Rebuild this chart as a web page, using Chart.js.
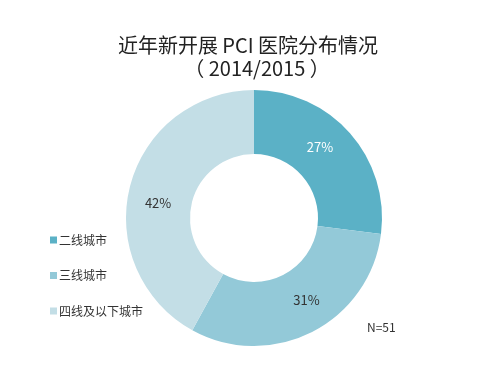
<!DOCTYPE html>
<html>
<head>
<meta charset="utf-8">
<script src="https://cdn.jsdelivr.net/npm/chart.js@4/dist/chart.umd.min.js"></script>
<style>
  html, body { margin: 0; padding: 0; background: #fff; }
  #wrap { width: 485px; height: 392px; position: relative; }
</style>
</head>
<body>
<div id="wrap"><canvas id="myChart" width="485" height="392"></canvas></div>
<script>
// data
var categories = ['二线城市', '三线城市', '四线及以下城市'];
var values = [27, 31, 42];
var sliceColors = ['#5BB1C6', '#93C9D8', '#C3DEE6'];
var labelColors = ['#ffffff', '#333333', '#333333'];
var titleLines = ['近年新开展 PCI 医院分布情况', '（ 2014/2015 ）'];
var noteText = 'N=51';

var FONT = '"Noto Sans CJK SC", "Noto Sans", sans-serif';

// draws title, slice labels, legend and note
var decorations = {
    id: 'decorations',
    afterDraw: function(chart) {
        var ctx = chart.ctx;
        ctx.save();
        ctx.textBaseline = 'middle';

        // title
        ctx.fillStyle = '#222';
        ctx.textAlign = 'center';
        ctx.font = '20px ' + FONT;
        ctx.fillText(titleLines[0], 248, 45);
        ctx.fillText(titleLines[1], 257, 68);

        // percentage labels, mid-ring, nudged a little counter-clockwise
        var meta = chart.getDatasetMeta(0);
        ctx.font = '13px ' + FONT;
        meta.data.forEach(function(arc, i) {
            var p = arc.getProps(['x', 'y', 'startAngle', 'endAngle', 'innerRadius', 'outerRadius']);
            var a = (p.startAngle + p.endAngle) / 2 - 0.1;
            var r = (p.innerRadius + p.outerRadius) / 2 + 1;
            ctx.fillStyle = labelColors[i];
            ctx.fillText(values[i] + '%', p.x + Math.cos(a) * r, p.y + Math.sin(a) * r);
        });

        // legend
        ctx.textAlign = 'left';
        ctx.font = '12px ' + FONT;
        categories.forEach(function(c, i) {
            var y = 240 + i * 35.5;
            ctx.fillStyle = sliceColors[i];
            ctx.fillRect(50, y - 3.5, 7, 7);
            ctx.fillStyle = '#333';
            ctx.fillText(c, 59, y);
        });

        // note
        ctx.fillStyle = '#333';
        ctx.fillText(noteText, 367, 327);
        ctx.restore();
    }
};

var ctx = document.getElementById('myChart').getContext('2d');
var chart = new Chart(ctx, {
    type: 'doughnut',
    data: {
        labels: categories,
        datasets: [{
            data: values,
            backgroundColor: sliceColors,
            borderWidth: 0
        }]
    },
    options: {
        responsive: false,
        animation: false,
        cutout: '50%',
        layout: { padding: { top: 90, bottom: 46, left: 126, right: 103 } },
        plugins: {
            legend: { display: false },
            title: { display: false },
            tooltip: { enabled: false }
        }
    },
    plugins: [decorations]
});
</script>
</body>
</html>
